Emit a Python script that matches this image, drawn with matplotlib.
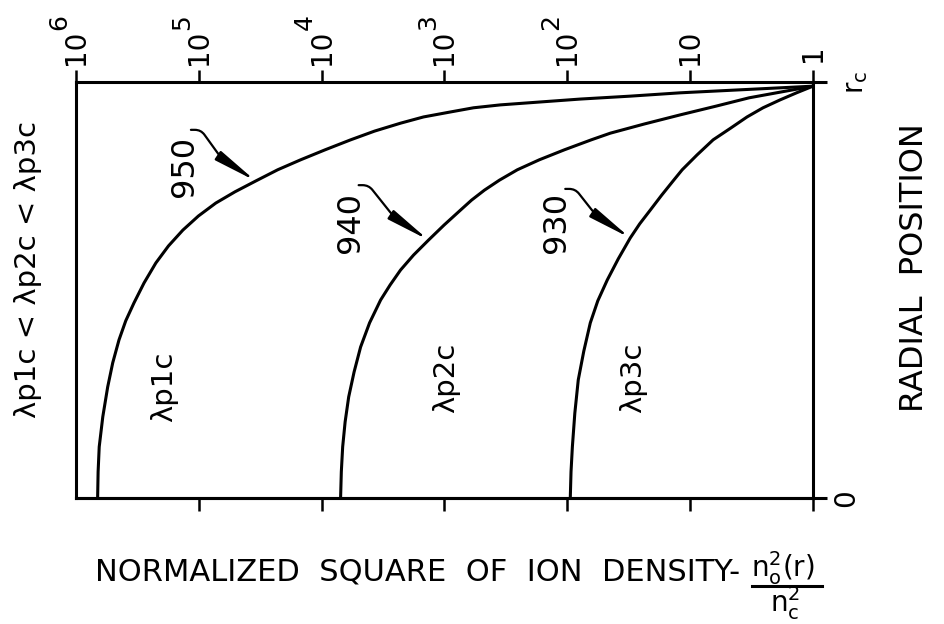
import numpy as np
import matplotlib
matplotlib.use('Agg')
import matplotlib.pyplot as plt
from matplotlib.ticker import FixedLocator, NullLocator, NullFormatter

plt.rcParams['font.family'] = ['DejaVu Sans']
plt.rcParams['mathtext.fontset'] = 'dejavusans'

# radial position r/rc and log10 of the normalized square of ion density n0^2(r)/nc^2
r_p1 = [0.000, 0.063, 0.123, 0.195, 0.267, 0.325, 0.380, 0.426, 0.469, 0.517,
        0.565, 0.606, 0.644, 0.678, 0.709, 0.736, 0.762, 0.789, 0.813, 0.837,
        0.861, 0.882, 0.901, 0.916, 0.928, 0.938, 0.945, 0.952, 0.959, 0.966,
        0.974, 0.980, 0.986, 0.990]
e_p1 = [5.824, 5.820, 5.811, 5.782, 5.742, 5.701, 5.650, 5.595, 5.528, 5.446,
        5.350, 5.247, 5.130, 5.003, 4.862, 4.706, 4.537, 4.358, 4.171, 3.972,
        3.764, 3.569, 3.358, 3.171, 2.951, 2.764, 2.545, 2.220, 1.894, 1.488,
        1.081, 0.675, 0.268, 0.000]

r_p2 = [0.000, 0.063, 0.123, 0.183, 0.243, 0.303, 0.363, 0.421, 0.476, 0.512,
        0.548, 0.584, 0.620, 0.656, 0.692, 0.716, 0.740, 0.764, 0.789, 0.813,
        0.837, 0.861, 0.877, 0.899, 0.921, 0.942, 0.962, 0.976, 0.990]
e_p2 = [3.846, 3.840, 3.829, 3.809, 3.780, 3.736, 3.683, 3.610, 3.520, 3.443,
        3.358, 3.252, 3.130, 3.004, 2.870, 2.780, 2.675, 2.553, 2.407, 2.228,
        2.024, 1.805, 1.650, 1.374, 1.081, 0.789, 0.520, 0.260, 0.000]

r_p3 = [0.000, 0.063, 0.123, 0.204, 0.284, 0.353, 0.421, 0.474, 0.524, 0.575,
        0.625, 0.659, 0.692, 0.728, 0.764, 0.789, 0.825, 0.861, 0.889, 0.916,
        0.938, 0.957, 0.974, 0.990]
e_p3 = [1.976, 1.970, 1.959, 1.939, 1.911, 1.866, 1.813, 1.752, 1.675, 1.585,
        1.488, 1.411, 1.325, 1.232, 1.134, 1.065, 0.943, 0.813, 0.671, 0.537,
        0.407, 0.268, 0.134, 0.000]

curve_names = ['λp1c', 'λp2c', 'λp3c']
ref_numbers = ['950', '940', '930']
arrow_idx = [16, 12, 10]   # point on each curve the numeral points at

decades = [1e6, 1e5, 1e4, 1e3, 1e2, 1e1, 1e0]
decade_base = ['10', '10', '10', '10', '10', '10', '1']
decade_exp = ['6', '5', '4', '3', '2', '', '']

W, H = 945, 624
fig = plt.figure(figsize=(W / 100, H / 100), dpi=100)
ax = fig.add_axes([76 / W, 126 / H, 737 / W, 416 / H])

ax.set_xscale('log')
ax.set_xlim(1e6, 1)
ax.set_ylim(0, 1)

lw = 2.2
curves = [(r_p1, e_p1), (r_p2, e_p2), (r_p3, e_p3)]
for r, e in curves:
    ax.plot(10.0 ** np.array(e), r, color='k', lw=lw,
            solid_capstyle='round', solid_joinstyle='round')

for s in ax.spines.values():
    s.set_linewidth(lw)

# decade ticks on top, labels drawn by hand
ax.xaxis.set_ticks_position('top')
ax.xaxis.set_major_locator(FixedLocator(decades))
ax.xaxis.set_minor_locator(NullLocator())
ax.xaxis.set_major_formatter(NullFormatter())
ax.tick_params(axis='x', direction='out', length=9, width=1.8)

bot = ax.secondary_xaxis('bottom', functions=(lambda x: x, lambda x: x))
bot.xaxis.set_major_locator(FixedLocator(decades[1:]))
bot.xaxis.set_minor_locator(NullLocator())
bot.xaxis.set_major_formatter(NullFormatter())
bot.tick_params(direction='out', length=9, width=1.8)
bot.spines['bottom'].set_linewidth(lw)

ax.yaxis.set_ticks_position('right')
ax.set_yticks([0, 1])
ax.yaxis.set_major_formatter(NullFormatter())
ax.tick_params(axis='y', direction='out', length=10, width=lw)

for v, b, e in zip(decades, decade_base, decade_exp):
    ax.annotate(b, xy=(v, 1), xycoords=('data', 'axes fraction'),
                xytext=(0, 25 if b == '10' else 21), textcoords='offset points',
                rotation=90, ha='center', va='center', fontsize=20)
    if e:
        ax.annotate(e, xy=(v, 1), xycoords=('data', 'axes fraction'),
                    xytext=(-12, 43), textcoords='offset points',
                    rotation=90, ha='center', va='center', fontsize=18)

ax.annotate('0', xy=(1, 0), xycoords='axes fraction', xytext=(24, 0),
            textcoords='offset points', rotation=90, ha='center', va='center',
            fontsize=20)
ax.annotate(r'$\mathregular{r_c}$', xy=(1, 1), xycoords='axes fraction',
            xytext=(31, 0), textcoords='offset points', rotation=90,
            ha='center', va='center', fontsize=20)

# curve names
for name, (x, y) in zip(curve_names, [(1.93e5, 0.267), (964, 0.288), (29, 0.288)]):
    ax.text(x, y, name, rotation=90, ha='center', va='center', fontsize=21)

# reference numerals with hooked leaders
starts = [(1.16e5, 0.885), (5.0e3, 0.752), (104, 0.743)]
label_pos = [(1.32e5, 0.798), (5.8e3, 0.663), (123, 0.663)]
for num, (r, e), i, st, lp in zip(ref_numbers, curves, arrow_idx, starts, label_pos):
    tip = (10.0 ** e[i], r[i])
    ax.text(lp[0], lp[1], num, rotation=90, ha='center', va='center', fontsize=23)
    ax.annotate('', xy=tip, xytext=st,
                arrowprops=dict(arrowstyle='-|>,head_length=2.6,head_width=0.32',
                                mutation_scale=10, lw=1.6, color='k',
                                connectionstyle='arc,angleA=0,armA=10,angleB=146,armB=42,rad=6',
                                shrinkA=0, shrinkB=0))

fig.text(28 / W, 1 - 269 / H, 'λp1c < λp2c < λp3c', rotation=90,
         ha='center', va='center', fontsize=21)
fig.text(915 / W, 1 - 268 / H, 'RADIAL  POSITION', rotation=90,
         ha='center', va='center', fontsize=23)

fig.text(95 / W, 1 - 580 / H, 'NORMALIZED  SQUARE  OF  ION  DENSITY-',
         ha='left', va='baseline', fontsize=22)
fig.text(783 / W, 1 - 577 / H, r'$\mathregular{n_o^2(r)}$',
         ha='center', va='baseline', fontsize=20)
fig.add_artist(plt.Line2D([752 / W, 822 / W], [1 - 586 / H, 1 - 586 / H],
                          color='k', lw=2.2))
fig.text(785 / W, 1 - 612 / H, r'$\mathregular{n_c^2}$',
         ha='center', va='baseline', fontsize=20)

fig.savefig('out.png', dpi=100)
